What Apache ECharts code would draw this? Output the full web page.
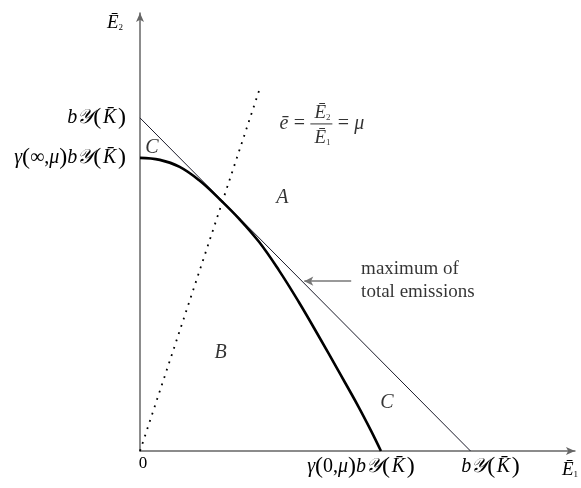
<!DOCTYPE html>
<html>
<head>
<meta charset="utf-8">
<script src="https://cdn.jsdelivr.net/npm/echarts@6/dist/echarts.min.js"></script>
<style>
  html, body { margin: 0; padding: 0; background: #fff; }
  #chart { width: 581px; height: 488px; }
</style>
</head>
<body>
<div id="chart"></div>
<script>
// 最大排放线 E1 + E2 = bY(K)
const lineX = [0, 1];
const lineY = [1, 0];
// 前沿曲线
const curveX = [0, 0.06, 0.12, 0.18, 0.24, 0.30, 0.36, 0.42, 0.48, 0.54, 0.60, 0.66, 0.70, 0.729];
const curveY = [0.88, 0.874, 0.853, 0.812, 0.757, 0.697, 0.628, 0.543, 0.448, 0.346, 0.241, 0.135, 0.059, 0];
// e = E2/E1 = mu 射线
const rayX = [0, 0.361];
const rayY = [0, 1.084];
// 刻度
const xTickValues = [0, 0.729, 1];
const yTickValues = [0.88, 1];
// 区域字母
const regionText = ['A', 'B', 'C', 'C'];
const regionX = [0.431, 0.244, 0.036, 0.747];
const regionY = [0.760, 0.294, 0.910, 0.144];
// 注释
const formulaPos = [0.422, 0.982];
const notePos = [0.669, 0.511];
const noteArrow = [[0.639, 0.51], [0.497, 0.51]];

const FONT = 'Liberation Serif';
const zip = (xs, ys) => xs.map((x, i) => [x, ys[i]]);

const mathRich = {
  i: { fontFamily: FONT, fontStyle: 'italic', fontSize: 20, color: '#000' },
  r: { fontFamily: FONT, fontSize: 20, color: '#000' },
  p: { fontFamily: FONT, fontSize: 24, color: '#000' }
};
const byk = '{i|b𝒴}{p|(}{i|\u200aK̄\u200a}{p|)}';
const xLabels = ['{z|0}', '{i|γ}{p|(}{r|0,}{i|μ}{p|)}' + byk, byk];
const yLabels = ['{i|γ}{p|(}{r|∞,}{i|μ}{p|)}' + byk, byk];

let myChart = echarts.init(document.getElementById('chart'));
myChart.setOption({
  animation: false,
  grid: { left: 140, right: 4, top: 13, bottom: 37 },
  xAxis: {
    type: 'value', min: 0, max: 1.316,
    splitLine: { show: false },
    axisTick: { show: false },
    axisLine: { lineStyle: { color: '#666', width: 1.5 }, symbol: ['none', 'arrow'], symbolSize: [6, 9] },
    name: '{E|Ē}{s|1}',
    nameLocation: 'end',
    nameGap: -5,
    nameTextStyle: {
      align: 'center', verticalAlign: 'top', padding: [8, 0, 0, 0],
      rich: {
        E: { fontFamily: FONT, fontStyle: 'italic', fontSize: 19, color: '#000', lineHeight: 20, verticalAlign: 'bottom' },
        s: { fontFamily: FONT, fontSize: 9, color: '#000', lineHeight: 9, verticalAlign: 'bottom' }
      }
    },
    axisLabel: {
      customValues: xTickValues,
      interval: 0,
      hideOverlap: false,
      margin: 4,
      formatter: function (v) {
        const i = xTickValues.indexOf(v);
        // 标签相对刻度的水平偏移
        if (i === 1) return xLabels[i] + '{gap|}';
        if (i === 2) return '{gap|}' + xLabels[i];
        return '{zs|}' + xLabels[i];
      },
      rich: Object.assign({}, mathRich, {
        z: { fontFamily: FONT, fontSize: 17, color: '#000', verticalAlign: 'top', lineHeight: 22 },
        zs: { width: 6 },
        gap: { width: 40 }
      })
    }
  },
  yAxis: {
    type: 'value', min: 0, max: 1.315,
    splitLine: { show: false },
    axisTick: { show: false },
    axisLine: { lineStyle: { color: '#666', width: 1.5 }, symbol: ['none', 'arrow'], symbolSize: [6, 9] },
    name: '{E|Ē}{s|2}',
    nameLocation: 'end',
    nameGap: -9,
    nameTextStyle: {
      align: 'right', verticalAlign: 'middle', padding: [0, 17, 0, 0],
      rich: {
        E: { fontFamily: FONT, fontStyle: 'italic', fontSize: 19, color: '#000', lineHeight: 20, verticalAlign: 'bottom' },
        s: { fontFamily: FONT, fontSize: 9, color: '#000', lineHeight: 9, verticalAlign: 'bottom' }
      }
    },
    axisLabel: {
      customValues: yTickValues,
      margin: 14,
      formatter: function (v) { return yLabels[yTickValues.indexOf(v)]; },
      rich: mathRich
    }
  },
  series: [
    {
      name: 'max', type: 'line', data: zip(lineX, lineY), symbol: 'none',
      lineStyle: { color: '#1b1b2a', width: 1 }, silent: true
    },
    {
      name: 'frontier', type: 'line', data: zip(curveX, curveY), symbol: 'none',
      smooth: 0.4,
      lineStyle: { color: '#000', width: 2.6 }, silent: true
    },
    {
      name: 'ray', type: 'line', data: zip(rayX, rayY), symbol: 'none',
      lineStyle: { color: '#000', width: 1.8, type: [1.8, 5.9] }, silent: true
    },
    {
      name: 'regions', type: 'scatter', symbolSize: 0, clip: false, silent: true,
      data: regionText.map((t, i) => ({ value: [regionX[i], regionY[i]], name: t })),
      label: {
        show: true, position: 'inside', formatter: '{b}',
        fontFamily: FONT, fontStyle: 'italic', fontSize: 20, color: '#000'
      }
    },
    {
      name: 'notes', type: 'scatter', symbolSize: 0, clip: false, silent: true,
      data: [
        {
          value: formulaPos,
          label: {
            formatter: '{sp|}{n|Ē}{ns|2}\n{e|ē}{eq|=}{bar|}{eq|=}{e|μ}\n{sp|}{n|Ē}{ns|1}',
            rich: {
              sp: { width: 33, lineHeight: 22 },
              n: { fontFamily: FONT, fontStyle: 'italic', fontSize: 19, color: '#000', lineHeight: 22, verticalAlign: 'bottom', padding: [0, 0, 0, 2] },
              ns: { fontFamily: FONT, fontSize: 9, color: '#000', lineHeight: 11, verticalAlign: 'bottom' },
              e: { fontFamily: FONT, fontStyle: 'italic', fontSize: 20, color: '#000', lineHeight: 3 },
              eq: { fontFamily: FONT, fontSize: 20, color: '#000', lineHeight: 3, width: 22, align: 'center' },
              bar: { width: 22, height: 1, backgroundColor: '#000', lineHeight: 3 }
            }
          }
        },
        {
          value: notePos,
          label: {
            formatter: 'maximum of\ntotal emissions',
            fontFamily: FONT, fontSize: 19, lineHeight: 23, color: '#000'
          }
        }
      ],
      label: { show: true, position: 'inside', align: 'left', verticalAlign: 'middle' },
      markLine: {
        silent: true, animation: false,
        symbol: ['none', 'arrow'], symbolSize: [7, 9],
        label: { show: false },
        lineStyle: { color: '#777', width: 1.5, type: 'solid' },
        data: [[{ coord: noteArrow[0] }, { coord: noteArrow[1] }]]
      }
    }
  ]
});
</script>
</body>
</html>
